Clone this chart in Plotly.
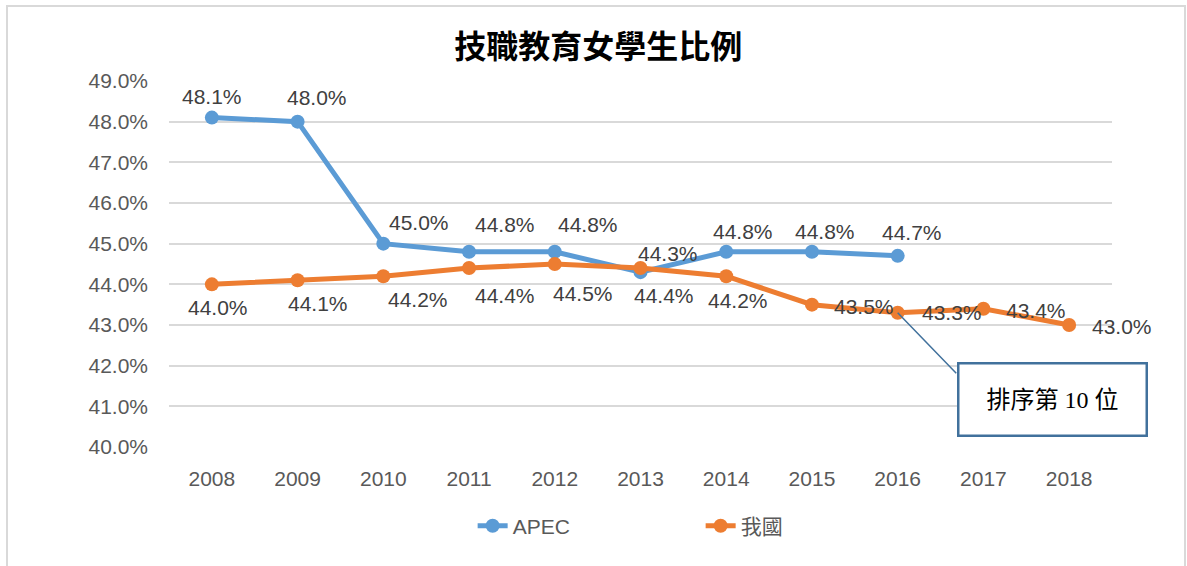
import plotly.graph_objects as go

years = ["2008", "2009", "2010", "2011", "2012", "2013", "2014", "2015", "2016", "2017", "2018"]
apec = [48.1, 48.0, 45.0, 44.8, 44.8, 44.3, 44.8, 44.8, 44.7]
taiwan = [44.0, 44.1, 44.2, 44.4, 44.5, 44.4, 44.2, 43.5, 43.3, 43.4, 43.0]
y_ticks = [40, 41, 42, 43, 44, 45, 46, 47, 48, 49]

title_text = "技職教育女學生比例"
series_names = ["APEC", "我國"]
callout_text = "排序第 10 位"

# label offsets (pixels, screen: +x right, +y down)
apec_off = [(0, -21), (19, -24), (36, -21), (36, -27), (33, -27), (27, -19), (17, -20), (13, -20), (14, -23)]
tw_off = [(6, 23), (20, 23), (35, 23), (36, 27), (28, 29), (23, 27), (12, 24), (52, 2), (54, 0), (53, 2), (53, 1)]

BLUE = "#5B9BD5"
ORANGE = "#ED7D31"
LBL_FONT = "Liberation Sans, Arial, sans-serif"
CJK = "Noto Sans CJK TC"

fig = go.Figure()
fig.add_trace(go.Scatter(x=years[:len(apec)], y=apec, name=series_names[0], mode="lines+markers",
                         line=dict(color=BLUE, width=5), marker=dict(size=14, color=BLUE)))
fig.add_trace(go.Scatter(x=years, y=taiwan, name=series_names[1], mode="lines+markers",
                         line=dict(color=ORANGE, width=5), marker=dict(size=14, color=ORANGE)))

ann = []
for i, v in enumerate(apec):
    dx, dy = apec_off[i]
    ann.append(dict(x=i, y=v, xref="x", yref="y", text=f"{v:.1f}%", showarrow=False,
                    xshift=dx, yshift=-dy, font=dict(family=LBL_FONT, size=21, color="#404040")))
for i, v in enumerate(taiwan):
    dx, dy = tw_off[i]
    ann.append(dict(x=i, y=v, xref="x", yref="y", text=f"{v:.1f}%", showarrow=False,
                    xshift=dx, yshift=-dy, font=dict(family=LBL_FONT, size=21, color="#404040")))

# callout leader line to 2016 point of 我國
ann.append(dict(x=8, y=taiwan[8], xref="x", yref="y", text="", showarrow=True,
                arrowhead=0, arrowwidth=1.5, arrowcolor="#41719C", ax=60, ay=62, standoff=0))
# callout box
ann.append(dict(x=0.9374, y=0.131, xref="paper", yref="paper", xanchor="center", yanchor="middle",
                text=callout_text, showarrow=False,
                width=184, height=68, bordercolor="#41719C", borderwidth=2.5, bgcolor="white",
                font=dict(family="Liberation Serif, " + CJK, size=24, color="black")))

fig.update_layout(
    width=1187, height=566,
    margin=dict(l=169, r=75, t=81, b=119, autoexpand=False),
    paper_bgcolor="white", plot_bgcolor="white",
    title=dict(text="<b>" + title_text + "</b>", x=0.504, xanchor="center", y=1 - 47 / 566, yanchor="middle",
               font=dict(family=CJK, size=32, color="black")),
    xaxis=dict(type="category", categoryorder="array", categoryarray=years, range=[-0.5, 10.5],
               showgrid=False, zeroline=False, showline=False, ticks="",
               tickfont=dict(family=LBL_FONT, size=21, color="#595959"), ticklabelstandoff=17),
    yaxis=dict(range=[40, 49], tickvals=y_ticks, ticktext=[f"{t:.1f}%" for t in y_ticks],
               showgrid=True, gridcolor="#d9d9d9", gridwidth=1.5, zeroline=False, showline=False,
               tickfont=dict(family=LBL_FONT, size=21, color="#595959"), ticklabelstandoff=20),
    showlegend=True,
    legend=dict(orientation="h", x=0.322, xanchor="left", y=-0.216, yanchor="middle",
                font=dict(family=LBL_FONT + ", " + CJK, size=21, color="#595959"),
                entrywidth=183, entrywidthmode="pixels"),
    annotations=ann,
    shapes=[dict(type="rect", xref="paper", yref="paper", x0=-0.1718, x1=1.0774, y0=-0.4, y1=1.205,
                 line=dict(color="#d9d9d9", width=2), fillcolor="rgba(0,0,0,0)", layer="below")],
)

fig.write_html("out.html", config={"displayModeBar": False},
               post_script="document.body.style.margin='0';document.body.style.overflow='hidden';")
